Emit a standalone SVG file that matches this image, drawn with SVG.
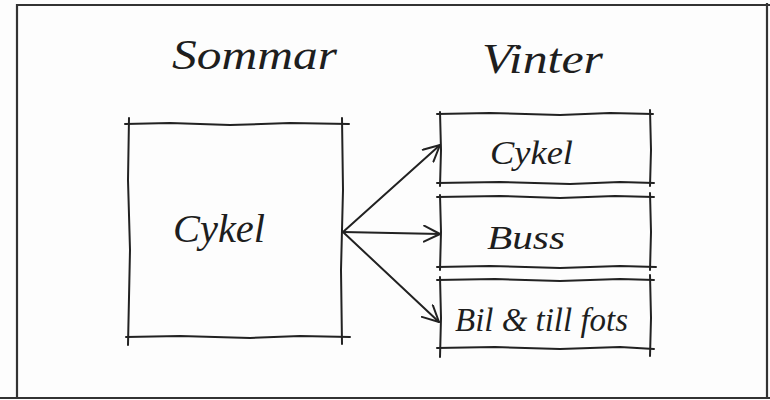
<svg xmlns="http://www.w3.org/2000/svg" width="770" height="400" viewBox="0 0 770 400">
  <style>
    .ink { fill: none; stroke: #222; stroke-width: 2; stroke-linecap: round; stroke-linejoin: round; }
    .frame { fill: none; stroke: #333; stroke-width: 2.2; }
    .hand { font-family: "Liberation Serif", "DejaVu Serif", serif; font-style: italic; fill: #1e1e1e; }
    .title { font-size: 42px; }
    .big { font-size: 40px; }
    .small { font-size: 34px; }
  </style>
  <defs>
    <marker id="open-arrow" viewBox="0 0 18 18" refX="17" refY="9" markerWidth="18" markerHeight="18" markerUnits="userSpaceOnUse" orient="auto">
      <path d="M1,1 L17,9 L1,17" fill="none" stroke="#222" stroke-width="2" stroke-linecap="round" stroke-linejoin="round"/>
    </marker>
  </defs>

  <rect width="770" height="400" fill="#fdfdfd"/>

  <!-- outer frame -->
  <g id="frame">
    <path class="frame" d="M16,5 L770,5"/>
    <path class="frame" d="M17,4 L17,398"/>
    <path class="frame" d="M767,3 L767,398" stroke="#8a8a8a"/>
    <path class="frame" d="M0,398 L770,398" stroke-width="3.2"/>
  </g>

  <!-- column headings -->
  <g id="heading-sommar">
    <text class="hand title" x="172" y="69" textLength="165" lengthAdjust="spacingAndGlyphs">Sommar</text>
  </g>
  <g id="heading-vinter">
    <text class="hand title" x="482" y="73" textLength="121" lengthAdjust="spacingAndGlyphs">Vinter</text>
  </g>

  <!-- summer: bicycle -->
  <g id="sommar-cykel">
    <path class="ink" d="M125,124 L170,123 L230,125 L290,123 L349,124"/>
    <path class="ink" d="M129,118 L128,180 L130,250 L128,345"/>
    <path class="ink" d="M342,118 L343,190 L341,270 L342,344"/>
    <path class="ink" d="M126,337 L180,336 L250,338 L300,336 L350,337"/>
    <text class="hand big" x="173" y="242" textLength="92" lengthAdjust="spacingAndGlyphs">Cykel</text>
  </g>

  <!-- winter: bicycle -->
  <g id="vinter-cykel">
    <path class="ink" d="M437,114 L490,113 L560,115 L610,113 L653,114"/>
    <path class="ink" d="M440,112 L441,150 L440,186"/>
    <path class="ink" d="M650,110 L651,150 L650,186"/>
    <path class="ink" d="M437,183 L500,182 L570,184 L620,182 L654,183"/>
    <text class="hand small" x="490" y="164" textLength="83" lengthAdjust="spacingAndGlyphs">Cykel</text>
  </g>

  <!-- winter: bus -->
  <g id="vinter-buss">
    <path class="ink" d="M437,197 L500,196 L560,198 L615,196 L654,197"/>
    <path class="ink" d="M440,195 L441,232 L440,270"/>
    <path class="ink" d="M650,193 L651,232 L650,270"/>
    <path class="ink" d="M437,267 L490,266 L560,268 L620,266 L656,267"/>
    <text class="hand small" x="487" y="249" textLength="78" lengthAdjust="spacingAndGlyphs">Buss</text>
  </g>

  <!-- winter: car and walking -->
  <g id="vinter-bil-fots">
    <path class="ink" d="M437,280 L495,279 L560,281 L620,279 L654,280"/>
    <path class="ink" d="M440,277 L441,318 L440,357"/>
    <path class="ink" d="M650,275 L651,318 L650,356"/>
    <path class="ink" d="M437,348 L495,347 L560,349 L620,347 L654,349"/>
    <text class="hand small" x="455" y="331" textLength="173" lengthAdjust="spacingAndGlyphs">Bil &amp; till fots</text>
  </g>

  <!-- connectors -->
  <g id="connectors">
    <path class="ink" d="M343,232 L440,145" marker-end="url(#open-arrow)"/>
    <path class="ink" d="M343,232 L440,234" marker-end="url(#open-arrow)"/>
    <path class="ink" d="M343,232 L439,322" marker-end="url(#open-arrow)"/>
  </g>
</svg>
